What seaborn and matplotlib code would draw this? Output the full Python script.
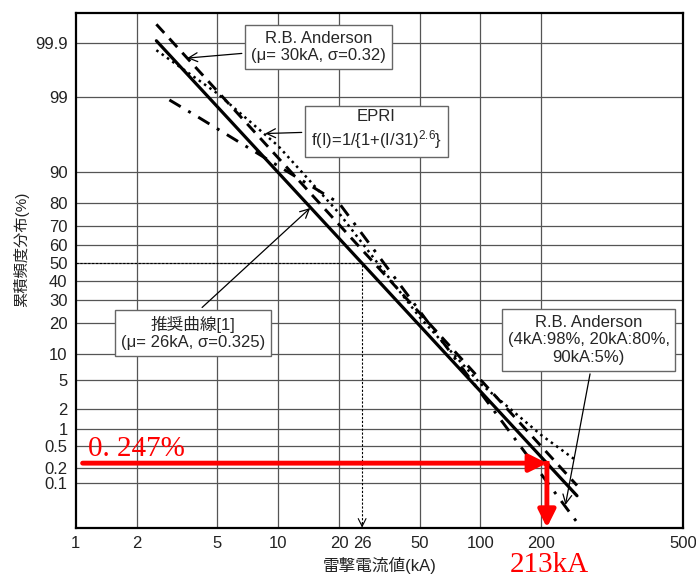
import numpy as np
import pandas as pd
import matplotlib
matplotlib.use('Agg')
import matplotlib.pyplot as plt
import seaborn as sns
from matplotlib.ticker import FixedLocator, NullLocator
from statistics import NormalDist

# Dữ liệu (kA, % tích lũy)
rec_kA = [2.5, 300]
rec_pct = [99.91, 0.054]

anderson_kA = [2.5, 300]
anderson_pct = [99.96, 0.089]

epri_kA = [2.5, 5, 10, 20, 31, 50, 100, 200, 300]
epri_pct = [99.86, 99.14, 95.0, 75.8, 50.0, 22.4, 4.5, 0.78, 0.27]

anderson3_kA = [2.9, 4, 20, 90, 300]
anderson3_pct = [98.9, 98.0, 80.0, 5.0, 0.0136]

xtick_vals = [1, 2, 5, 10, 20, 26, 50, 100, 200, 1000]
xtick_labels = ['1', '2', '5', '10', '20', '26', '50', '100', '200', '500']
xgrid_vals = [2, 5, 10, 20, 50, 100, 200]

ytick_vals = [99.9, 99, 90, 80, 70, 60, 50, 40, 30, 20, 10, 5, 2, 1, 0.5, 0.2, 0.1]
ytick_labels = ['99.9', '99', '90', '80', '70', '60', '50', '40', '30', '20',
                '10', '5', '2', '1', '0.5', '0.2', '0.1']

median_kA = 26
read_kA = 213
read_pct = 0.247

# Thang xác suất chuẩn
_nd = NormalDist()
_ppf = np.vectorize(lambda v: _nd.inv_cdf(v), otypes=[float])
_cdf = np.vectorize(lambda v: _nd.cdf(v), otypes=[float])


def prob_fwd(p):
    p = np.clip(np.asarray(p, dtype=float), 1e-7, 100 - 1e-7)
    return _ppf(p / 100)


def prob_inv(z):
    return _cdf(np.asarray(z, dtype=float)) * 100


sns.set_theme(style='white')
plt.rcParams['font.family'] = ['Liberation Sans', 'Noto Sans CJK JP', 'DejaVu Sans']
plt.rcParams['mathtext.fontset'] = 'custom'
plt.rcParams['mathtext.rm'] = 'Liberation Sans'
plt.rcParams['mathtext.default'] = 'regular'

fig = plt.figure(figsize=(6.96, 5.8), dpi=100)
ax = fig.add_axes([0.109, 0.09, 0.872, 0.888])

# Vẽ các đường
sns.lineplot(x=rec_kA, y=rec_pct, ax=ax, color='black', lw=2.3,
             estimator=None, sort=False, zorder=5)
sns.lineplot(x=anderson_kA, y=anderson_pct, ax=ax, color='black', lw=2.1,
             linestyle=(0, (4, 2.6)), estimator=None, sort=False, zorder=5)
sns.lineplot(x=epri_kA, y=epri_pct, ax=ax, color='black', lw=1.8,
             linestyle=(0, (1, 1.6)), estimator=None, sort=False, zorder=5)
sns.lineplot(x=anderson3_kA, y=anderson3_pct, ax=ax, color='black', lw=2.1,
             linestyle=(0, (4.5, 3, 1, 3)), estimator=None, sort=False, zorder=5)

ax.set_xscale('log')
ax.set_yscale('function', functions=(prob_fwd, prob_inv))
ax.set_xlim(1, 1000)
ax.set_ylim(0.01, 99.978)

# Lưới
for xv in xgrid_vals:
    ax.axvline(xv, color='#555555', lw=0.9, zorder=1)
for yv in ytick_vals:
    ax.axhline(yv, color='#555555', lw=0.9, zorder=1)

ax.xaxis.set_major_locator(FixedLocator(xtick_vals))
ax.set_xticklabels(xtick_labels)
ax.yaxis.set_major_locator(FixedLocator(ytick_vals))
ax.set_yticklabels(ytick_labels)
ax.xaxis.set_minor_locator(NullLocator())
ax.yaxis.set_minor_locator(NullLocator())
ax.tick_params(axis='both', length=0, labelsize=12, colors='#222222')
ax.tick_params(axis='x', pad=6)
ax.tick_params(axis='y', pad=6)
for sp in ax.spines.values():
    sp.set_color('black')
    sp.set_linewidth(1.6)

ax.set_xlabel('雷撃電流値(kA)', fontsize=12, labelpad=4, color='#222222')
ax.set_ylabel('累積頻度分布(%)', fontsize=11, color='#222222')
ax.yaxis.set_label_coords(-0.077, 0.54)

# Đường tham chiếu 50% -> 26kA
ax.plot([1, median_kA, median_kA], [50, 50, 0.0125], color='black', lw=0.8,
        linestyle=(0, (2, 1.5)), zorder=3)
ax.annotate('', xy=(median_kA, 0.0101), xytext=(median_kA, 0.013),
            arrowprops=dict(arrowstyle='->', color='black', lw=0.8,
                            mutation_scale=14, shrinkA=0, shrinkB=0))

# Mũi tên đỏ
ax.annotate('', xy=(read_kA, read_pct), xytext=(1.08, read_pct),
            arrowprops=dict(arrowstyle='-|>', color='red', lw=3.5,
                            mutation_scale=26, shrinkA=0, shrinkB=0), zorder=6)
ax.annotate('', xy=(read_kA, 0.0101), xytext=(read_kA, read_pct),
            arrowprops=dict(arrowstyle='-|>', color='red', lw=3.5,
                            mutation_scale=26, shrinkA=0, shrinkB=0), zorder=6)
ax.plot([read_kA * 0.96, read_kA * 1.02], [read_pct, read_pct], color='red', lw=3.5,
        solid_capstyle='butt', zorder=6)
ax.text(1.15, 0.33, '0. 247%', color='red', fontsize=21,
        family='Liberation Serif', ha='left', va='baseline', zorder=7)
ax.annotate(f'{read_kA}kA', xy=(read_kA * 1.03, -0.085),
            xycoords=('data', 'axes fraction'), color='red', fontsize=21,
            family='Liberation Serif', ha='center', va='baseline',
            annotation_clip=False)

# Chú thích
box = dict(boxstyle='square,pad=0.35', fc='white', ec='#666666', lw=1.0)
arr = dict(arrowstyle='->', color='black', lw=0.9, mutation_scale=16, shrinkB=0)

ax.annotate('R.B. Anderson\n(μ= 30kA, σ=0.32)', xy=(3.55, 99.80),
            xytext=(15.8, 99.88), ha='center', va='center', fontsize=12,
            bbox=box, arrowprops=arr, zorder=8)
ax.annotate('EPRI\nf(I)=1/{1+(I/31)$^{2.6}$}', xy=(8.63, 96.55),
            xytext=(30.6, 96.9), ha='center', va='center', fontsize=12,
            bbox=box, arrowprops=arr, zorder=8)
ax.annotate('推奨曲線[1]\n(μ= 26kA, σ=0.325)', xy=(14.4, 78.0),
            xytext=(3.8, 16.3), ha='center', va='center', fontsize=12,
            bbox=box, arrowprops=dict(arr, relpos=(0.5, 1.0)), zorder=8)
ax.annotate('R.B. Anderson\n(4kA:98%, 20kA:80%,\n90kA:5%)', xy=(263, 0.034),
            xytext=(342, 14.0), ha='center', va='center', fontsize=12,
            bbox=box, arrowprops=dict(arr, relpos=(0.52, 0.0)), zorder=8)

plt.savefig('out.png', dpi=100)
